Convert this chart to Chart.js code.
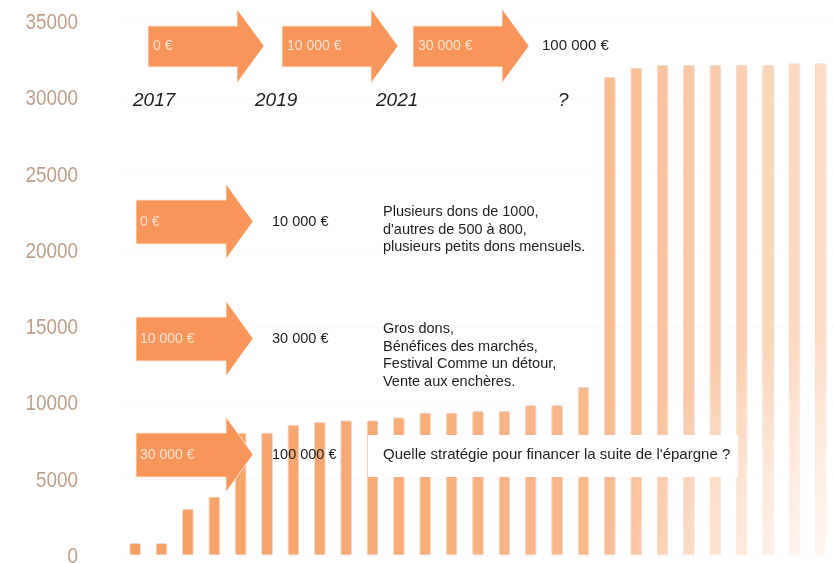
<!DOCTYPE html>
<html>
<head>
<meta charset="utf-8">
<script src="https://cdn.jsdelivr.net/npm/chart.js@4/dist/chart.umd.min.js"></script>
<style>
  html, body { margin:0; padding:0; background:#fff; }
  #wrap { width:834px; height:563px; position:relative; }
</style>
</head>
<body>
<div id="wrap"><canvas id="c"></canvas></div>
<script>
// ── Data ─────────────────────────────────────────────
const months = ['1','2','3','4','5','6','7','8','9','10','11','12','13','14','15','16','17','18','19','20','21','22','23','24','25','26','27'];
const savings = [850, 850, 3100, 3900, 8100, 8100, 8600, 8800, 8900, 8900, 9100, 9400, 9400, 9500, 9500, 9900, 9900, 11100,
                 31400, 32000, 32200, 32200, 32200, 32200, 32200, 32300, 32300];
const yTicks = [0, 5000, 10000, 15000, 20000, 25000, 30000, 35000];

// timeline (top row) and steps (left column)
const years   = ['2017', '2019', '2021', '?'];
const topArrows = ['0 €', '10 000 €', '30 000 €'];
const topGoal   = '100 000 €';
const steps = [
  { from:'0 €',      to:'10 000 €',  notes:['Plusieurs dons de 1000,', "d'autres de 500 à 800,", 'plusieurs petits dons mensuels.'] },
  { from:'10 000 €', to:'30 000 €',  notes:['Gros dons,', 'Bénéfices des marchés,', 'Festival Comme un détour,', 'Vente aux enchères.'] },
  { from:'30 000 €', to:'100 000 €', notes:[] },
];
const question = "Quelle stratégie pour financer la suite de l'épargne ?";

const C = { arrow:'#f7955a', arrowEdge:'rgba(255,235,220,0.9)', arrowText:'#fde3cf', text:'#1e1e1e', tick:'#bf9f8a' };
const FONT = '"Liberation Sans", Arial, sans-serif';

function barFill(ctx) {
  const ca = ctx.chart.chartArea;
  if (!ca) return '#f6a36b';
  const g = ctx.chart.ctx.createLinearGradient(ca.left, 0, ca.right, 0);
  g.addColorStop(0,    'rgb(245,158,98)');
  g.addColorStop(0.35, 'rgb(247,170,118)');
  g.addColorStop(0.68, 'rgb(249,187,144)');
  g.addColorStop(1,    'rgb(253,222,202)');
  return g;
}

// ── Overlay: arrows + notes ─────────────────────────
function arrow(ctx, x0, xh, xt, yTop, yBot, hTop, hBot) {
  const ym = (hTop + hBot) / 2;
  ctx.beginPath();
  ctx.moveTo(x0, yTop); ctx.lineTo(xh, yTop); ctx.lineTo(xh, hTop); ctx.lineTo(xt, ym);
  ctx.lineTo(xh, hBot); ctx.lineTo(xh, yBot); ctx.lineTo(x0, yBot); ctx.closePath();
  ctx.fillStyle = C.arrow; ctx.fill();
  ctx.strokeStyle = C.arrowEdge; ctx.lineWidth = 1; ctx.stroke();
}

const overlay = {
  id:'overlay',
  afterDatasetsDraw(chart) {
    const ctx = chart.ctx;
    ctx.save();
    // fade bottom-right corner
    const fg = ctx.createRadialGradient(834, 563, 0, 834, 563, 230);
    fg.addColorStop(0, 'rgba(0,0,0,0.8)');
    fg.addColorStop(0.5, 'rgba(0,0,0,0.45)');
    fg.addColorStop(1, 'rgba(0,0,0,0)');
    ctx.globalCompositeOperation = 'destination-out';
    ctx.fillStyle = fg; ctx.fillRect(560, 320, 274, 243);
    ctx.globalCompositeOperation = 'source-over';

    // y tick labels, narrow
    const ys = chart.scales.y;
    ctx.fillStyle = C.tick; ctx.font = '22px ' + FONT;
    ctx.textAlign = 'right'; ctx.textBaseline = 'middle';
    yTicks.forEach(v => {
      ctx.save();
      ctx.translate(78, ys.getPixelForValue(v) + 1);
      ctx.scale(0.86, 1);
      ctx.fillText(String(v), 0, 0);
      ctx.restore();
    });

    // top timeline
    const tx = [148, 282, 413];
    ctx.textAlign = 'left';
    topArrows.forEach((t, i) => {
      arrow(ctx, tx[i], tx[i] + 89, tx[i] + 116, 26, 67, 9, 83);
      ctx.font = '14px ' + FONT;
      ctx.fillStyle = C.arrowText;
      ctx.fillText(t, tx[i] + 5, 46);
    });
    ctx.fillStyle = C.text; ctx.font = '15px ' + FONT;
    ctx.fillText(topGoal, 542, 46);
    ctx.font = 'italic 19px ' + FONT;
    [133, 255, 376, 558].forEach((x, i) => ctx.fillText(years[i], x, 101));

    // steps
    const sy = [222, 339, 455];
    steps.forEach((s, i) => {
      const y = sy[i];
      arrow(ctx, 136, 226, 253, y - 22, y + 22, y - 38, y + 37);
      ctx.font = '14px ' + FONT;
      ctx.fillStyle = C.arrowText; ctx.fillText(s.from, 140, y);
      ctx.font = '14.5px ' + FONT;
      ctx.fillStyle = C.text; ctx.fillText(s.to, 272, y);
      s.notes.forEach((n, k) => ctx.fillText(n, 383, y - 10 + k * 17.7));
    });

    // question box
    ctx.fillStyle = '#fff';
    ctx.fillRect(368, 435, 370, 42);
    ctx.fillStyle = C.text; ctx.font = '15px ' + FONT;
    ctx.fillText(question, 383, 455);
    ctx.restore();
  }
};

new Chart(document.getElementById('c'), {
  type:'bar',
  data:{ labels:months,
    datasets:[{ data:savings, backgroundColor:barFill, borderColor:'rgba(215,170,140,0.45)', borderWidth:1,
                borderRadius:2, borderSkipped:false, barPercentage:0.9, categoryPercentage:0.5 }] },
  options:{ responsive:true, maintainAspectRatio:false, animation:false,
    layout:{ padding:0 },
    plugins:{ legend:{display:false}, tooltip:{enabled:false} },
    scales:{
      x:{ display:false, grid:{display:false} },
      y:{ min:0, max:35000, border:{display:false},
          grid:{ color:'rgba(0,0,0,0.018)', drawTicks:false },
          afterBuildTicks:s => { s.ticks = yTicks.map(v => ({ value:v })); },
          afterFit:s => { s.width = 122; s.paddingTop = 22; s.paddingBottom = 7; },
          ticks:{ display:false } }
    }
  },
  plugins:[overlay]
});
</script>
</body>
</html>
